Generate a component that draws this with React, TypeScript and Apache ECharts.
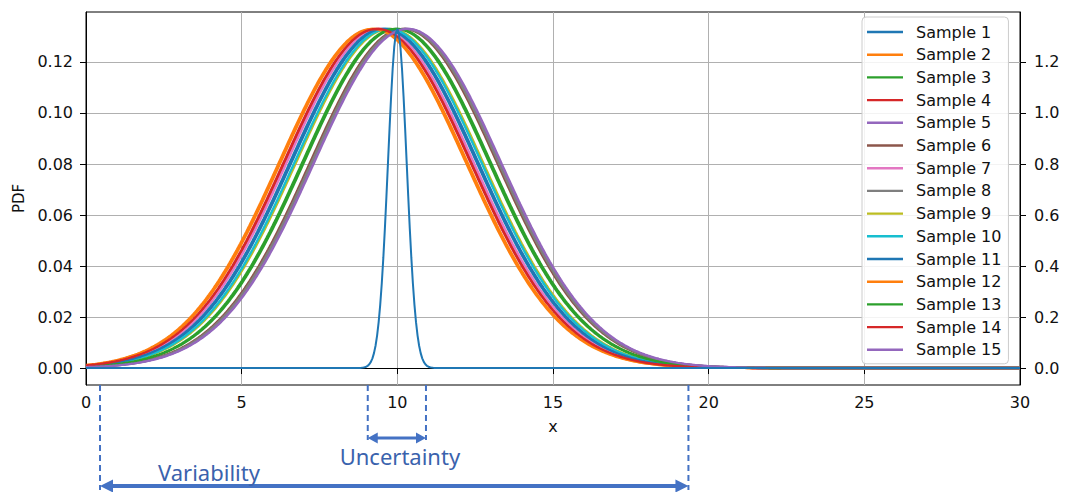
import React, { useEffect, useRef } from "react";
import * as echarts from "echarts";

// ---- data ----
const sampleNames = [
  "Sample 1", "Sample 2", "Sample 3", "Sample 4", "Sample 5",
  "Sample 6", "Sample 7", "Sample 8", "Sample 9", "Sample 10",
  "Sample 11", "Sample 12", "Sample 13", "Sample 14", "Sample 15",
];
// centre (mean) of each sample's normal PDF
const sampleMeans = [9.6, 9.25, 10.0, 9.4, 10.3, 10.2, 9.45, 10.25, 9.75, 9.7, 9.55, 9.2, 9.95, 9.35, 10.33];
// common spread: peak height 0.133
const sampleSigma = 3.0;
// narrow curve (right axis): peak 1.33, centred at 10
const meanCurveCenter = 10;
const meanCurveSigma = 0.3;

const xTicks = [0, 5, 10, 15, 20, 25, 30];
const yLeftTicks = [0, 0.02, 0.04, 0.06, 0.08, 0.1, 0.12];
const yRightTicks = [0, 0.2, 0.4, 0.6, 0.8, 1.0, 1.2];
const uncertaintyRange = [9.05, 10.92];
const variabilityRange = [0.45, 19.35];

const palette = [
  "#1f77b4", "#ff7f0e", "#2ca02c", "#d62728", "#9467bd",
  "#8c564b", "#e377c2", "#7f7f7f", "#bcbd22", "#17becf",
];

const xs: number[] = [];
for (let i = 0; i <= 600; i++) xs.push(+(i * 0.05).toFixed(2));

const normalPdf = (x: number, m: number, s: number) =>
  Math.exp(-0.5 * ((x - m) / s) ** 2) / (s * Math.sqrt(2 * Math.PI));

const FONT = "DejaVu Sans";
const ANN_COLOR = "#4472c4";
const ANN_TEXT = "#3a62ad";

export default function App() {
  const ref = useRef<HTMLDivElement>(null);
  useEffect(() => {
    if (!ref.current) return;
    const chart = echarts.init(ref.current, undefined, { renderer: "svg" });

    const series: any[] = sampleNames.map((name, i) => ({
      name,
      type: "line",
      yAxisIndex: 0,
      showSymbol: false,
      symbol: "none",
      color: palette[i % palette.length],
      lineStyle: { width: 2.4 },
      data: xs.map((x) => [x, normalPdf(x, sampleMeans[i], sampleSigma)]),
    }));
    series.push({
      name: "Mean",
      type: "line",
      yAxisIndex: 1,
      showSymbol: false,
      symbol: "none",
      color: palette[0],
      lineStyle: { width: 2 },
      z: 5,
      data: xs.map((x) => [x, normalPdf(x, meanCurveCenter, meanCurveSigma)]),
    });

    const axisText = { color: "#111", fontSize: 16, fontFamily: FONT };

    chart.setOption({
      animation: false,
      grid: {
        left: 86, right: 50, top: 12, bottom: 107,
        show: true, borderColor: "#000", borderWidth: 1, backgroundColor: "transparent",
      },
      legend: {
        data: sampleNames,
        orient: "vertical",
        left: 862,
        top: 17,
        icon: "path://M0,0 L36,0 L36,2.4 L0,2.4 Z",
        itemWidth: 36,
        itemHeight: 14,
        itemGap: 6.7,
        padding: [7, 7, 6, 5],
        backgroundColor: "rgba(255,255,255,0.85)",
        borderColor: "#cccccc",
        borderWidth: 1,
        borderRadius: 4,
        textStyle: { color: "#111", fontSize: 16, lineHeight: 16, fontFamily: FONT, padding: [0, 0, 0, 8] },
      },
      xAxis: {
        type: "value",
        min: 0,
        max: 30,
        interval: 5,
        name: "x",
        nameLocation: "middle",
        nameGap: 33,
        nameTextStyle: axisText,
        axisLine: { show: true, lineStyle: { color: "#000", width: 1 } },
        axisTick: { show: true, length: 6, lineStyle: { color: "#000" }, customValues: xTicks },
        axisLabel: { ...axisText, margin: 9, customValues: xTicks },
        splitLine: { show: true, lineStyle: { color: "#b0b0b0", width: 1 } },
      },
      yAxis: [
        {
          type: "value",
          position: "left",
          min: -0.00665,
          max: 0.1396,
          splitNumber: 7,
          name: "PDF",
          nameLocation: "middle",
          nameGap: 58,
          nameTextStyle: { ...axisText, fontSize: 15 },
          axisLine: { show: true, lineStyle: { color: "#000", width: 1 } },
          axisTick: { show: true, length: 6, lineStyle: { color: "#000" }, customValues: yLeftTicks },
          axisLabel: {
            ...axisText, margin: 13, customValues: yLeftTicks,
            formatter: (v: number) => v.toFixed(2),
          },
          splitLine: { show: true, lineStyle: { color: "#b0b0b0", width: 1 } },
        },
        {
          type: "value",
          position: "right",
          min: -0.0665,
          max: 1.396,
          splitNumber: 7,
          axisLine: { show: true, lineStyle: { color: "#000", width: 1 } },
          axisTick: { show: true, length: 6, lineStyle: { color: "#000" }, customValues: yRightTicks },
          axisLabel: {
            ...axisText, margin: 14, customValues: yRightTicks,
            formatter: (v: number) => v.toFixed(1),
          },
          splitLine: { show: false },
        },
      ],
      series,
    });

    // annotations below the axis, positioned through the x scale
    const px = (v: number) => chart.convertToPixel({ xAxisIndex: 0 }, v) as number;
    const axisY = chart.convertToPixel({ yAxisIndex: 0 }, -0.00665) as number;
    const [u1, u2] = uncertaintyRange.map(px);
    const [v1, v2] = variabilityRange.map(px);
    const uY = 438;
    const vY = 486;
    const dash = { stroke: ANN_COLOR, lineWidth: 2, lineDash: [6, 4] };
    const arrow = (x1: number, x2: number, y: number, w: number, hl: number, hh: number) => [
      { type: "line", shape: { x1: x1 + hl - 1, y1: y, x2: x2 - hl + 1, y2: y }, style: { stroke: ANN_COLOR, lineWidth: w } },
      { type: "polygon", shape: { points: [[x1, y], [x1 + hl, y - hh], [x1 + hl, y + hh]] }, style: { fill: ANN_COLOR } },
      { type: "polygon", shape: { points: [[x2, y], [x2 - hl, y - hh], [x2 - hl, y + hh]] }, style: { fill: ANN_COLOR } },
    ];
    chart.setOption({
      graphic: [
        { type: "line", shape: { x1: u1, y1: axisY, x2: u1, y2: uY + 2 }, style: dash },
        { type: "line", shape: { x1: u2, y1: axisY, x2: u2, y2: uY + 2 }, style: dash },
        { type: "line", shape: { x1: v1, y1: axisY, x2: v1, y2: vY + 4 }, style: dash },
        { type: "line", shape: { x1: v2, y1: axisY, x2: v2, y2: vY + 4 }, style: dash },
        ...arrow(u1, u2, uY, 3, 10, 5.5),
        ...arrow(v1, v2, vY, 4, 13, 6.5),
        {
          type: "text",
          x: (u1 + u2) / 2 + 3,
          y: 456,
          style: {
            text: "Uncertainty", fill: ANN_TEXT, font: "22px 'Noto Sans'",
            align: "center", verticalAlign: "middle",
          },
        },
        {
          type: "text",
          x: 158,
          y: 472,
          style: {
            text: "Variability", fill: ANN_TEXT, font: "22px 'Noto Sans'",
            align: "left", verticalAlign: "middle",
          },
        },
      ],
    });

    return () => chart.dispose();
  }, []);

  return (
    <div
      ref={ref}
      style={{ position: "fixed", left: 0, top: 0, width: 1070, height: 492, background: "#fff" }}
    />
  );
}
